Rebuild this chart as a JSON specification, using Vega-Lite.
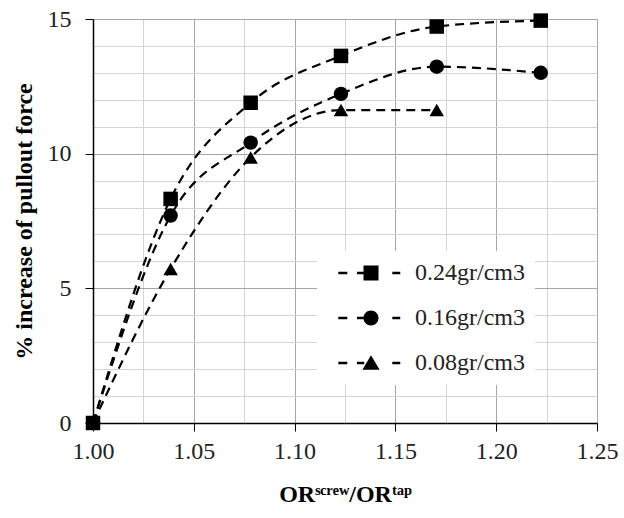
{
  "$schema": "https://vega.github.io/schema/vega-lite/v6.json",
  "autosize": "none",
  "width": 504,
  "height": 404,
  "padding": {"left": 93, "top": 19, "right": 27, "bottom": 95},
  "background": "white",
  "config": {
    "view": {"stroke": null},
    "font": "Liberation Serif",
    "axis": {"labelFont": "Liberation Serif", "titleFont": "Liberation Serif"},
    "legend": {"labelFont": "Liberation Serif"}
  },
  "data": {
    "values": [
      {"x": 1.0, "y": 0, "series": "0.24gr/cm3"},
      {"x": 1.0385, "y": 8.32, "series": "0.24gr/cm3"},
      {"x": 1.0782, "y": 11.89, "series": "0.24gr/cm3"},
      {"x": 1.123, "y": 13.63, "series": "0.24gr/cm3"},
      {"x": 1.1705, "y": 14.72, "series": "0.24gr/cm3"},
      {"x": 1.2221, "y": 14.94, "series": "0.24gr/cm3"},
      {"x": 1.0, "y": 0, "series": "0.16gr/cm3"},
      {"x": 1.0385, "y": 7.7, "series": "0.16gr/cm3"},
      {"x": 1.0782, "y": 10.41, "series": "0.16gr/cm3"},
      {"x": 1.123, "y": 12.22, "series": "0.16gr/cm3"},
      {"x": 1.1705, "y": 13.23, "series": "0.16gr/cm3"},
      {"x": 1.2221, "y": 13.0, "series": "0.16gr/cm3"},
      {"x": 1.0, "y": 0, "series": "0.08gr/cm3"},
      {"x": 1.0385, "y": 5.72, "series": "0.08gr/cm3"},
      {"x": 1.0782, "y": 9.86, "series": "0.08gr/cm3"},
      {"x": 1.123, "y": 11.62, "series": "0.08gr/cm3"},
      {"x": 1.1705, "y": 11.62, "series": "0.08gr/cm3"}
    ]
  },
  "encoding": {
    "x": {
      "field": "x",
      "type": "quantitative",
      "scale": {"domain": [1.0, 1.25], "nice": false, "zero": false},
      "axis": {
        "title": "ORˢᶜʳᵉʷ/ORᵗᵃᵖ",
        "titleFontSize": 24,
        "titleFontWeight": "bold",
        "titleColor": "black",
        "titlePadding": 19,
        "values": [1.0, 1.025, 1.05, 1.075, 1.1, 1.125, 1.15, 1.175, 1.2, 1.225, 1.25],
        "labelExpr": "abs(datum.value*20 - round(datum.value*20)) < 0.001 ? format(datum.value, '.2f') : ''",
        "labelFontSize": 24,
        "labelColor": "#222",
        "labelFlush": false,
        "labelOverlap": false,
        "labelBound": false,
        "labelPadding": 8,
        "tickSize": 8,
        "tickColor": {"condition": {"test": "abs(datum.value*20 - round(datum.value*20)) < 0.001", "value": "black"}, "value": "transparent"},
        "gridColor": {"condition": {"test": "abs(datum.value*20 - round(datum.value*20)) < 0.001", "value": "#a6a6a6"}, "value": "#d4d4d4"},
        "gridOpacity": 1,
        "domainColor": "black",
        "domainWidth": 1.5
      }
    },
    "y": {
      "field": "y",
      "type": "quantitative",
      "scale": {"domain": [0, 15], "nice": false},
      "axis": {
        "title": "%  increase of pullout  force",
        "titleFontSize": 24,
        "titleFontWeight": "bold",
        "titleColor": "black",
        "titlePadding": 11,
        "values": [0, 1, 2, 3, 4, 5, 6, 7, 8, 9, 10, 11, 12, 13, 14, 15],
        "labelExpr": "datum.value % 5 === 0 ? datum.label : ''",
        "labelFontSize": 24,
        "labelColor": "#222",
        "labelPadding": 14,
        "labelOverlap": false,
        "labelFlush": false,
        "tickSize": 8,
        "tickColor": {"condition": {"test": "datum.value % 5 === 0", "value": "black"}, "value": "transparent"},
        "gridColor": {"condition": {"test": "datum.value % 5 === 0", "value": "#a6a6a6"}, "value": "#d4d4d4"},
        "gridOpacity": 1,
        "domainColor": "black",
        "domainWidth": 1.5
      }
    }
  },
  "resolve": {"scale": {"shape": "independent"}, "legend": {"shape": "independent"}},
  "layer": [
    {
      "mark": {"type": "line", "interpolate": "monotone", "strokeDash": [9, 6], "strokeWidth": 2.2, "color": "black"},
      "encoding": {
        "detail": {"field": "series"},
        "order": {"field": "x", "type": "quantitative"}
      }
    },
    {
      "mark": {"type": "point", "filled": true, "color": "black", "opacity": 1, "size": 210},
      "encoding": {
        "shape": {
          "field": "series",
          "type": "nominal",
          "scale": {"domain": ["0.24gr/cm3", "0.16gr/cm3", "0.08gr/cm3"], "range": ["square", "circle", "triangle-up"]},
          "legend": null
        }
      }
    },
    {
      "mark": {"type": "point", "filled": true, "color": "black", "opacity": 0, "size": 225},
      "encoding": {
        "shape": {
          "field": "series",
          "type": "nominal",
          "scale": {
            "domain": ["0.24gr/cm3", "0.16gr/cm3", "0.08gr/cm3"],
            "range": [
              "M-4.36,-0.16H-3.16V0.16H-4.36Z M-1.87,-0.16H-1V0.16H-1.87Z M-1,-1H1V1H-1Z M2.84,-0.16H3.9V0.16H2.84Z",
              "M-4.36,-0.16H-3.16V0.16H-4.36Z M-1.87,-0.16H-0.9V0.16H-1.87Z M1,0A1,1,0,1,1,-1,0A1,1,0,1,1,1,0Z M2.84,-0.16H3.9V0.16H2.84Z",
              "M-4.36,-0.16H-3.16V0.16H-4.36Z M-1.87,-0.16H-0.9V0.16H-1.87Z M0,-1.05L1.15,0.9H-1.15Z M2.84,-0.16H3.9V0.16H2.84Z"
            ]
          },
          "legend": {
            "title": null,
            "orient": "none",
            "legendX": 224,
            "legendY": 232,
            "fillColor": "white",
            "padding": 10,
            "symbolSize": 225,
            "symbolFillColor": "black",
            "symbolOpacity": 1,
            "symbolStrokeWidth": 0,
            "symbolOffset": 32,
            "labelOffset": 32,
            "labelFontSize": 24,
            "labelColor": "#222",
            "rowPadding": 21,
            "labelLimit": 300
          }
        }
      }
    }
  ]
}
